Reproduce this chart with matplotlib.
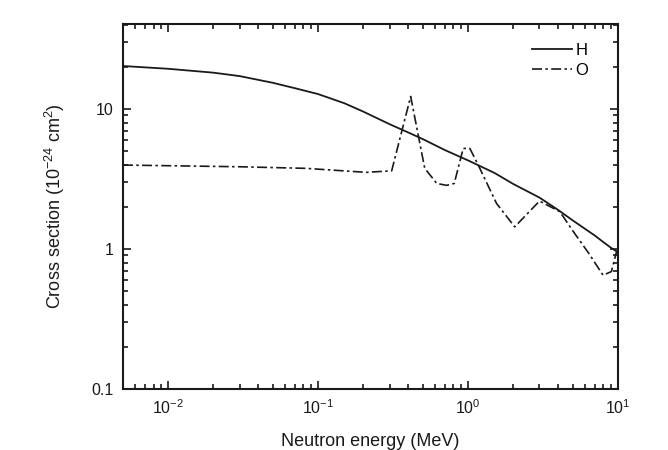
import matplotlib
matplotlib.use("Agg")
import matplotlib.pyplot as plt
from matplotlib.ticker import LogLocator, FixedLocator, FixedFormatter, NullFormatter

plt.rcParams['font.family'] = ['Liberation Sans', 'DejaVu Sans']
plt.rcParams['mathtext.fontset'] = 'custom'
plt.rcParams['mathtext.rm'] = 'Liberation Sans'
plt.rcParams['mathtext.it'] = 'Liberation Sans:italic'

# Data
h_energy = [0.005, 0.01, 0.02, 0.03, 0.05, 0.07, 0.1, 0.15, 0.2, 0.3, 0.4, 0.5,
            0.7, 1.0, 1.5, 2.0, 3.0, 4.0, 5.0, 6.0, 7.0, 8.0, 9.0, 10.0]
h_sigma = [20.3, 19.4, 18.2, 17.2, 15.4, 14.1, 12.8, 11.0, 9.6, 7.8, 6.8, 6.1,
           5.1, 4.3, 3.5, 2.92, 2.33, 1.9, 1.6, 1.4, 1.25, 1.12, 1.02, 0.95]

o_energy = [0.005, 0.03, 0.083, 0.21, 0.31, 0.415, 0.515, 0.62, 0.72, 0.81, 0.93,
            1.03, 1.2, 1.55, 2.05, 3.0, 4.1, 5.0, 6.4, 7.96, 9.05, 9.8]
o_sigma = [3.98, 3.87, 3.77, 3.53, 3.62, 12.3, 3.77, 2.94, 2.85, 2.94, 5.23,
           5.23, 3.77, 2.12, 1.44, 2.2, 1.85, 1.35, 0.93, 0.65, 0.69, 0.96]

x_ticks = [0.01, 0.1, 1, 10]
x_ticklabels = [r'$10^{-2}$', r'$10^{-1}$', r'$10^{0}$', r'$10^{1}$']
y_ticks = [0.1, 1, 10]
y_ticklabels = ['0.1', '1', '10']

fig = plt.figure(figsize=(6.68, 4.5), dpi=100)
ax = fig.add_axes([0.184, 0.1356, 0.741, 0.811])

ax.plot(h_energy, h_sigma, color='#1a1a1a', lw=1.3, linestyle='-', label='H')
ax.plot(o_energy, o_sigma, color='#1a1a1a', lw=1.2, linestyle=(0, (6, 2, 1.5, 2)), label='O')

ax.set_xscale('log')
ax.set_yscale('log')
ax.set_xlim(0.005, 10)
ax.set_ylim(0.1, 40.5)

ax.xaxis.set_major_locator(FixedLocator(x_ticks))
ax.xaxis.set_major_formatter(FixedFormatter(x_ticklabels))
ax.xaxis.set_minor_locator(LogLocator(base=10, subs=range(2, 10), numticks=20))
ax.xaxis.set_minor_formatter(NullFormatter())
ax.yaxis.set_major_locator(FixedLocator(y_ticks))
ax.yaxis.set_major_formatter(FixedFormatter(y_ticklabels))
ax.yaxis.set_minor_locator(LogLocator(base=10, subs=range(2, 10), numticks=20))
ax.yaxis.set_minor_formatter(NullFormatter())

ax.tick_params(which='both', direction='in', top=True, right=True, colors='#1a1a1a',
               labelsize=11.5, width=1.2)
ax.tick_params(which='major', length=6, pad=7)
ax.tick_params(which='minor', length=3.5)
for s in ax.spines.values():
    s.set_linewidth(1.5)
    s.set_color('#1a1a1a')

ax.set_xlabel('Neutron energy (MeV)', fontsize=13, color='#1a1a1a', labelpad=11)
ax.set_ylabel(r'Cross section (10$^{-24}$ cm$^{2}$)', fontsize=13, color='#1a1a1a', labelpad=17)

leg = ax.legend(loc='upper right', frameon=False, fontsize=12, handlelength=2.4,
                handletextpad=0.2, labelspacing=0.3, bbox_to_anchor=(0.97, 0.99))

fig.savefig('out.png', dpi=100)
